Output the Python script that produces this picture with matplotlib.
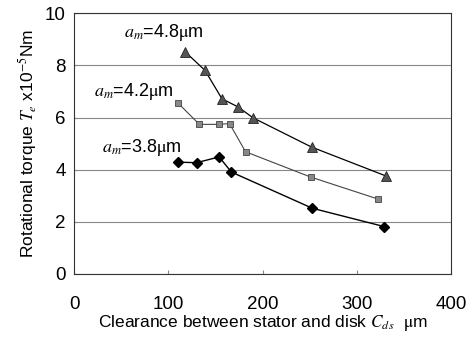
import matplotlib
matplotlib.use("Agg")
import matplotlib.pyplot as plt

plt.rcParams['font.family'] = ['Liberation Sans', 'DejaVu Sans']
plt.rcParams['mathtext.fontset'] = 'stix'

x_48 = [118, 139, 157, 174, 190, 252, 331]
y_48 = [8.52, 7.81, 6.72, 6.41, 5.99, 4.87, 3.76]
x_42 = [110, 133, 154, 165, 182, 251, 323]
y_42 = [6.57, 5.74, 5.74, 5.77, 4.69, 3.72, 2.87]
x_38 = [110, 130, 154, 167, 253, 329]
y_38 = [4.29, 4.27, 4.49, 3.91, 2.52, 1.82]
xticks = [0, 100, 200, 300, 400]
yticks = [0, 2, 4, 6, 8, 10]

fig = plt.figure(figsize=(4.76, 3.38), dpi=100)
ax = fig.add_axes([74/476, 1-274/338, 377/476, 260.7/338])

ax.plot(x_48, y_48, color='black', lw=0.9, marker='^', ms=6.5, mfc='#555555', mec='#222222', mew=0.6)
ax.plot(x_42, y_42, color='#444444', lw=0.8, marker='s', ms=5, mfc='#888888', mec='#444444', mew=0.6)
ax.plot(x_38, y_38, color='black', lw=1.0, marker='D', ms=5, mfc='black', mec='black')

ax.text(53, 9.25, r'$a_m$=4.8$\mathrm{\mu}$m', fontsize=13, va='center', ha='left')
ax.text(21, 7.0, r'$a_m$=4.2$\mathrm{\mu}$m', fontsize=13, va='center', ha='left')
ax.text(30, 4.85, r'$a_m$=3.8$\mathrm{\mu}$m', fontsize=13, va='center', ha='left')

ax.set_xlim(0, 400)
ax.set_ylim(0, 10)
ax.set_xticks(xticks)
ax.set_yticks(yticks)
ax.tick_params(axis='x', direction='in', length=3, labelsize=13.5, color='#888888', pad=16)
ax.tick_params(axis='y', direction='in', length=3, labelsize=13.5, color='#888888', pad=6)
ax.yaxis.grid(True, color='#888888', lw=0.8)
for s in ax.spines.values():
    s.set_color('#333333')
    s.set_linewidth(0.8)

ax.set_xlabel(r'Clearance between stator and disk $C_{ds}$  $\mathrm{\mu}$m', fontsize=12.5, labelpad=0)
ax.set_ylabel(r'Rotational torque $T_e$ x10$^{-5}$Nm', fontsize=12.5, labelpad=4)

fig.savefig('out.png', dpi=100)
